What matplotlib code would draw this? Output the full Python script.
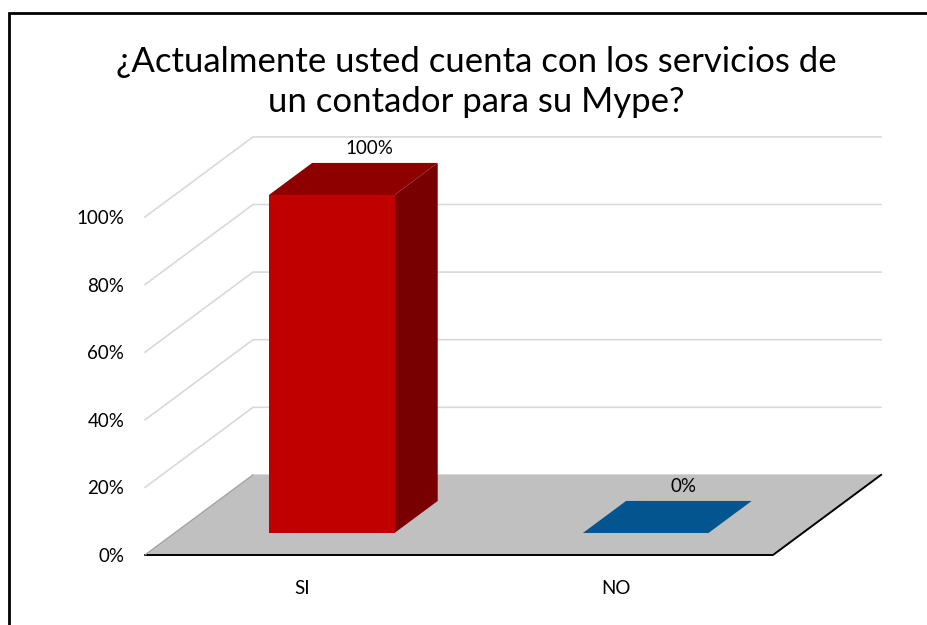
import matplotlib
matplotlib.use("Agg")
import matplotlib.pyplot as plt
from matplotlib.patches import Polygon, Rectangle

plt.rcParams['font.family'] = ['Lato', 'DejaVu Sans']

categories = ["SI", "NO"]
values = [1.00, 0.00]
value_labels = ["100%", "0%"]
bar_colors = [("#c00000", "#8e0000", "#780000"), ("#02558f", "#02558f", "#02558f")]
yticks = [0, 0.2, 0.4, 0.6, 0.8, 1.0]
ytick_labels = ["0%", "20%", "40%", "60%", "80%", "100%"]
title = "¿Actualmente usted cuenta con los servicios de\nun contador para su Mype?"

W, H = 927, 625
fig = plt.figure(figsize=(W / 100, H / 100), dpi=100)

# front plane of the fake 3d box, in pixels
left, right, bottom, top = 145, 773, 555, 217
ax = fig.add_axes([left / W, 1 - bottom / H, (right - left) / W, (bottom - top) / H])
ax.set_xlim(0, len(categories))
ax.set_ylim(0, 1)
for s in ax.spines.values():
    s.set_visible(False)

# depth offset (data units) of the back wall
DX, DY = 0.344, 0.237
d0, d1 = 0.275, 0.675   # bar front / back as fraction of depth
bw = 0.40

def off(x, y, d):
    return (x + d * DX, y + d * DY)

n = len(categories)
# left wall + back wall gridlines
for v in yticks:
    ax.plot([0, DX, n + DX], [v, v + DY, v + DY], color="#d9d9d9", lw=1.2,
            clip_on=False, zorder=1, solid_joinstyle="miter")

# floor
floor = Polygon([off(0, 0, 0), off(n, 0, 0), off(n, 0, 1), off(0, 0, 1)],
                closed=True, fc="#c0c0c0", ec="none", clip_on=False, zorder=2)
ax.add_patch(floor)
ax.plot([0, n, n + DX], [0, 0, DY], color="black", lw=1.4,
        clip_on=False, zorder=3)
ax.plot([0, DX], [0, DY], color="#a0a0a0", lw=0.8, clip_on=False, zorder=3)

for i, (v, cols) in enumerate(zip(values, bar_colors)):
    cx = i + 0.5
    x0, x1 = cx - bw / 2, cx + bw / 2
    front = [off(x0, 0, d0), off(x1, 0, d0), off(x1, v, d0), off(x0, v, d0)]
    topf = [off(x0, v, d0), off(x1, v, d0), off(x1, v, d1), off(x0, v, d1)]
    side = [off(x1, 0, d0), off(x1, 0, d1), off(x1, v, d1), off(x1, v, d0)]
    if v > 0:
        ax.add_patch(Polygon(side, closed=True, fc=cols[2], ec="none", clip_on=False, zorder=4))
        ax.add_patch(Polygon(front, closed=True, fc=cols[0], ec="none", clip_on=False, zorder=5))
    ax.add_patch(Polygon(topf, closed=True, fc=cols[1], ec="none", clip_on=False, zorder=5))
    lx, ly = off(cx + 0.05, v, (d0 + d1) / 2)
    ax.annotate(value_labels[i], (lx, ly), xytext=(0, 30), textcoords="offset pixels",
                ha="center", va="center", fontsize=13.5, zorder=6, annotation_clip=False)

ax.set_yticks(yticks)
ax.set_yticklabels(ytick_labels, fontsize=13.5)
ax.set_xticks([i + 0.5 for i in range(n)])
ax.set_xticklabels(categories, fontsize=13.5)
ax.tick_params(axis="y", length=0, pad=15)
ax.tick_params(axis="x", length=0, pad=18)

fig.text(476 / W, 1 - 82 / H, title, ha="center", va="center", fontsize=25,
         linespacing=1.27)

# chart border
fig.patches.append(Rectangle((9 / W, -0.1), 1.2, 1 - 13 / H + 0.1, transform=fig.transFigure,
                             fill=False, ec="black", lw=2, zorder=10))

fig.savefig("out.png", dpi=100)
